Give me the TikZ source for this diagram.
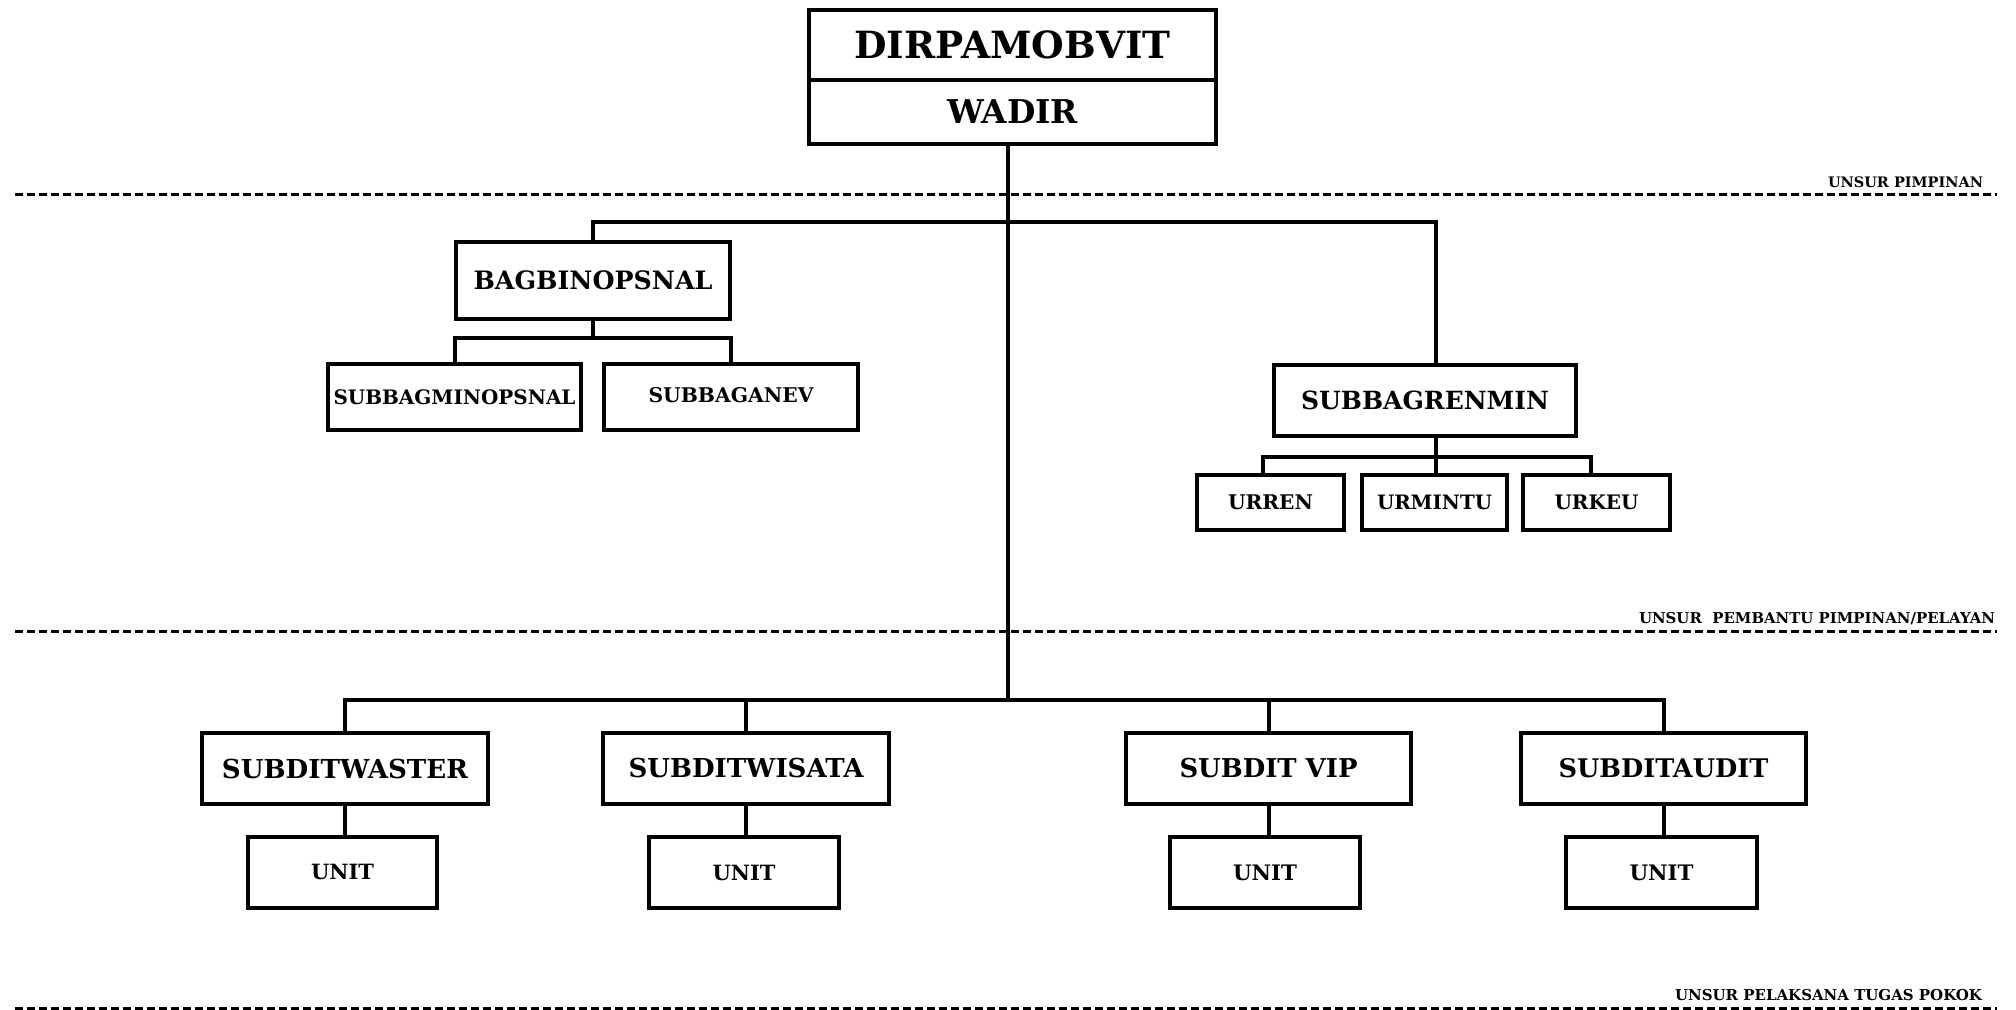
\documentclass[tikz,border=0pt]{standalone}
\usepackage{fontspec}
\setmainfont{DejaVu Serif}
\usepackage{graphicx}
\newcommand\fitw[2]{\resizebox{#1pt}{!}{\bfseries #2}}
\tikzset{
  bx/.style 2 args={draw, line width=2pt, inner sep=0pt, outer sep=0pt,
    minimum width=#1*0.5pt, minimum height=#2*0.5pt, fill=white},
  conn/.style={line width=2pt, line join=miter},
  dline/.style={line width=1.5pt, dash pattern=on 4pt off 2pt},
  lbl/.style={inner sep=0pt, outer sep=0pt, anchor=base east}
}
\begin{document}
\begin{tikzpicture}[x=0.5pt, y=-0.5pt]
\useasboundingbox (0,0) rectangle (2016,1010);
% level coordinates
\coordinate (barT) at (0,222);
\coordinate (barS1) at (0,338);
\coordinate (barS2) at (0,457);
\coordinate (barB) at (0,700);
\coordinate (tx) at (1008,0);
\coordinate (rx) at (1436,0);
\coordinate (rl) at (1263,0);
\coordinate (rr) at (1591,0);
% dashed separators
\coordinate (d1a) at (15,195);  \coordinate (d1b) at (1997,195);
\coordinate (d2a) at (15,631);  \coordinate (d2b) at (1997,631);
\coordinate (d3a) at (15,1008); \coordinate (d3b) at (1997,1008);
\draw[dline] (d1a) -- (d1b);
\draw[dline] (d2a) -- (d2b);
\draw[dline] (d3a) -- (d3b);
\node[lbl] (l1) at (1983,188) {\fitw{77.5}{UNSUR PIMPINAN}};
\node[lbl] (l2) at (1995,623) {\fitw{178}{UNSUR\ \ PEMBANTU PIMPINAN/PELAYAN}};
\node[lbl] (l3) at (1982,1000) {\fitw{153.5}{UNSUR PELAKSANA TUGAS POKOK}};
% top
\node[bx={407}{70}] (dir) at (1012.5,45) {\fitw{158}{DIRPAMOBVIT}};
\node[bx={407}{64}] (wadir) at (1012.5,112) {\fitw{65.5}{WADIR}};
% pimpinan helpers
\node[bx={274}{77}] (bag) at (593,280.5) {\fitw{119.5}{BAGBINOPSNAL}};
\node[bx={253}{66}] (sbm) at (454.5,397) {\fitw{121}{SUBBAGMINOPSNAL}};
\node[bx={254}{66}] (sbe) at (731,397) {\raisebox{2.5pt}{\fitw{82.5}{SUBBAGANEV}}};
\node[bx={302}{71}] (ren) at (1425,400.5) {\fitw{124}{SUBBAGRENMIN}};
\node[bx={147}{55}] (urren) at (1270.5,502.5) {\raisebox{-2.5pt}{\fitw{42.5}{URREN}}};
\node[bx={145}{55}] (urmin) at (1434.5,502.5) {\fitw{57.5}{URMINTU}};
\node[bx={147}{55}] (urkeu) at (1596.5,502.5) {\fitw{42}{URKEU}};
% subdit
\node[bx={286}{71}] (sw) at (345,768.5) {\fitw{123}{SUBDITWASTER}};
\node[bx={286}{71}] (swi) at (746,768.5) {\fitw{117.5}{SUBDITWISATA}};
\node[bx={285}{71}] (svip) at (1268.5,768.5) {\fitw{89}{SUBDIT VIP}};
\node[bx={285}{71}] (sa) at (1663.5,768.5) {\raisebox{1pt}{\fitw{105}{SUBDITAUDIT}}};
\node[bx={189}{71}] (u1) at (342.5,872.5) {\raisebox{1pt}{\fitw{31.5}{UNIT}}};
\node[bx={190}{71}] (u2) at (744,872.5) {\fitw{31.5}{UNIT}};
\node[bx={190}{71}] (u3) at (1265,872.5) {\fitw{32}{UNIT}};
\node[bx={191}{71}] (u4) at (1661.5,872.5) {\fitw{32}{UNIT}};
% connectors
\draw[conn] (wadir.south -| tx) -- (tx |- barB);
\draw[conn] (bag.north) -- (bag.north |- barT) -- (rx |- barT) -- (rx |- ren.north);
\draw[conn] (bag.south) -- (bag.south |- barS1);
\draw[conn] (sbm.north) -- (sbm.north |- barS1) -| (sbe.north);
\draw[conn] (rx |- ren.south) -- (rx |- barS2);
\draw[conn] (rl |- urren.north) -- (rl |- barS2) -- (rr |- barS2) -- (rr |- urkeu.north);
\draw[conn] (rx |- urmin.north) -- (rx |- barS2);
\draw[conn] (sw.north) -- (sw.north |- barB) -| (sa.north);
\draw[conn] (swi.north) -- (swi.north |- barB);
\draw[conn] (svip.north) -- (svip.north |- barB);
\draw[conn] (sw.south) -- (sw.south |- u1.north);
\draw[conn] (swi.south) -- (swi.south |- u2.north);
\draw[conn] (svip.south) -- (svip.south |- u3.north);
\draw[conn] (sa.south) -- (sa.south |- u4.north);
\end{tikzpicture}
\end{document}
